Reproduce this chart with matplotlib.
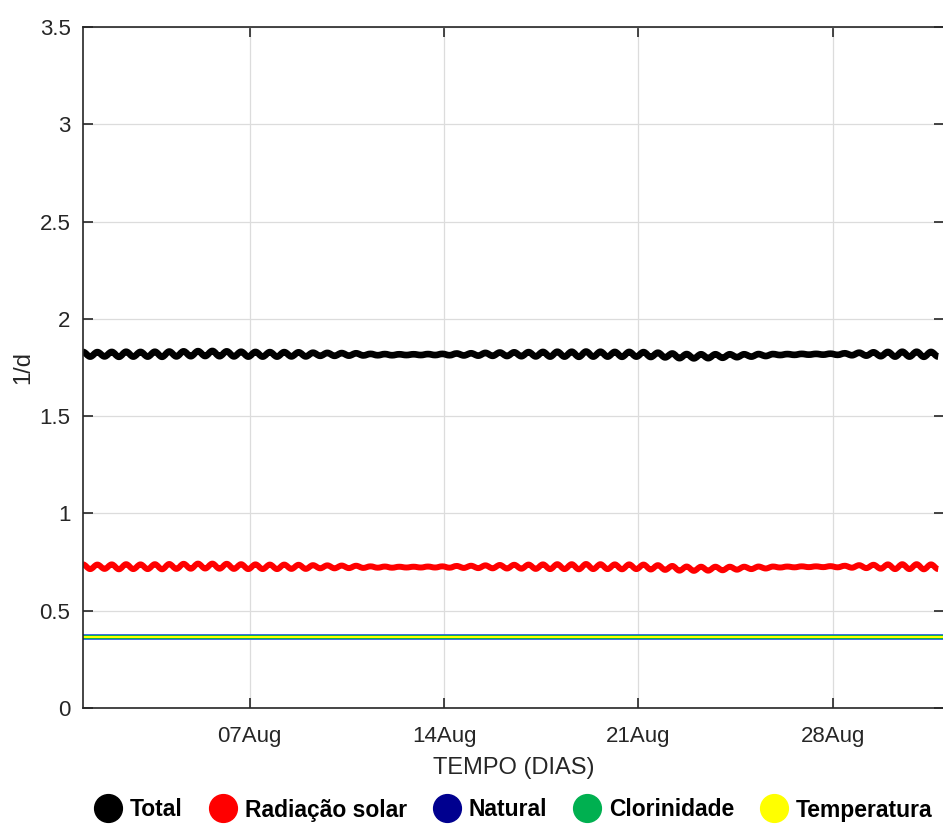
import numpy as np
import matplotlib
matplotlib.use("Agg")
import matplotlib.pyplot as plt
import matplotlib.dates as mdates
from matplotlib.lines import Line2D
from matplotlib.path import Path
from matplotlib.patches import PathPatch
from matplotlib.ticker import FuncFormatter

# samples every half tidal cycle (~6.21 h) starting 01 Aug: highs and lows
start = np.datetime64("2021-08-01T00:00")
step = np.timedelta64(22356, "s")
end = np.datetime64("2021-09-01T00:00")

total = [
    1.830, 1.806, 1.829, 1.807, 1.830, 1.805, 1.831, 1.806,
    1.830, 1.806, 1.831, 1.805, 1.832, 1.807, 1.833, 1.808,
    1.834, 1.809, 1.835, 1.808, 1.833, 1.807, 1.831, 1.806,
    1.830, 1.806, 1.829, 1.806, 1.829, 1.807, 1.828, 1.807,
    1.826, 1.810, 1.825, 1.810, 1.824, 1.811, 1.823, 1.812,
    1.820, 1.813, 1.819, 1.813, 1.818, 1.814, 1.818, 1.814,
    1.819, 1.814, 1.820, 1.813, 1.822, 1.812, 1.823, 1.811,
    1.825, 1.810, 1.827, 1.809, 1.828, 1.808, 1.829, 1.807,
    1.830, 1.806, 1.831, 1.806, 1.831, 1.805, 1.832, 1.806,
    1.831, 1.806, 1.830, 1.805, 1.830, 1.806, 1.829, 1.804,
    1.826, 1.802, 1.822, 1.798, 1.819, 1.797, 1.818, 1.798,
    1.818, 1.800, 1.818, 1.803, 1.818, 1.806, 1.819, 1.809,
    1.819, 1.814, 1.819, 1.815, 1.820, 1.816, 1.820, 1.816,
    1.821, 1.815, 1.823, 1.813, 1.826, 1.811, 1.828, 1.808,
    1.830, 1.806, 1.831, 1.806, 1.831, 1.805, 1.830, 1.806,
]

radiacao = [
    0.738, 0.714, 0.737, 0.715, 0.738, 0.713, 0.739, 0.714,
    0.738, 0.714, 0.739, 0.713, 0.740, 0.715, 0.741, 0.716,
    0.742, 0.717, 0.742, 0.716, 0.741, 0.715, 0.739, 0.714,
    0.738, 0.714, 0.737, 0.714, 0.737, 0.715, 0.736, 0.715,
    0.734, 0.718, 0.733, 0.718, 0.732, 0.719, 0.731, 0.720,
    0.728, 0.721, 0.727, 0.721, 0.726, 0.722, 0.726, 0.722,
    0.727, 0.722, 0.728, 0.721, 0.730, 0.720, 0.731, 0.719,
    0.733, 0.718, 0.735, 0.717, 0.736, 0.716, 0.737, 0.715,
    0.738, 0.714, 0.739, 0.714, 0.739, 0.713, 0.740, 0.714,
    0.739, 0.714, 0.738, 0.713, 0.738, 0.714, 0.737, 0.712,
    0.734, 0.710, 0.730, 0.706, 0.727, 0.705, 0.726, 0.706,
    0.726, 0.708, 0.726, 0.711, 0.726, 0.714, 0.727, 0.717,
    0.727, 0.722, 0.727, 0.723, 0.728, 0.724, 0.728, 0.724,
    0.729, 0.723, 0.731, 0.721, 0.734, 0.719, 0.736, 0.716,
    0.738, 0.714, 0.739, 0.714, 0.739, 0.713, 0.738, 0.714,
]

# flat series (start / end of the period)
natural = [0.365, 0.365]
clorinidade = [0.365, 0.365]
temperatura = [0.365, 0.365]

labels = ["Total", "Radiação solar", "Natural", "Clorinidade", "Temperatura"]
colors = ["#000000", "#ff0000", "#00008f", "#00b050", "#ffff00"]

t = start + np.arange(len(total)) * step
t_flat = np.array([start, end])


def wave_path(x, y):
    # cubic segments with flat tangents at each high/low, so the line reads as a wave
    x = mdates.date2num(x.astype("datetime64[s]").astype(object))
    verts = [(x[0], y[0])]
    codes = [Path.MOVETO]
    for i in range(len(x) - 1):
        dx = x[i + 1] - x[i]
        verts += [(x[i] + 0.364 * dx, y[i]), (x[i + 1] - 0.364 * dx, y[i + 1]), (x[i + 1], y[i + 1])]
        codes += [Path.CURVE4] * 3
    return Path(verts, codes)


plt.rcParams["font.family"] = ["Liberation Sans", "DejaVu Sans"]
ink = "#262626"

fig = plt.figure(figsize=(9.43, 8.25), dpi=100)
ax = fig.add_axes([83 / 943, 1 - 708 / 825, 861 / 943, 681 / 825])

ax.add_patch(PathPatch(wave_path(t, total), fill=False, edgecolor=colors[0], lw=4.8,
                       joinstyle="round", capstyle="butt"))
ax.add_patch(PathPatch(wave_path(t, radiacao), fill=False, edgecolor=colors[1], lw=4.3,
                       joinstyle="round", capstyle="butt"))
ax.plot(t_flat, natural, color="#3a5cf0", lw=4.2)
ax.plot(t_flat, clorinidade, color=colors[3], lw=3.0)
ax.plot(t_flat, temperatura, color=colors[4], lw=1.5)

ax.set_xlim(start, end)
ax.set_ylim(0, 3.5)
ax.set_yticks(np.arange(0, 3.51, 0.5))
ax.yaxis.set_major_formatter(FuncFormatter(lambda v, p: "%g" % v))
ax.set_xticks([np.datetime64("2021-08-07"), np.datetime64("2021-08-14"),
               np.datetime64("2021-08-21"), np.datetime64("2021-08-28")])
ax.xaxis.set_major_formatter(mdates.DateFormatter("%d%b"))

ax.grid(True, color="#dcdcdc", lw=0.9)
ax.set_axisbelow(True)
for s in ax.spines.values():
    s.set_color(ink)
    s.set_linewidth(1.2)
ax.tick_params(direction="in", length=7, width=1.2, color=ink, labelcolor=ink,
               top=True, right=True, labelsize=16)
ax.tick_params(axis="y", pad=9)
ax.tick_params(axis="x", pad=13)

ax.set_xlabel("TEMPO (DIAS)", fontsize=17, color=ink, labelpad=7)
ax.set_ylabel("1/d", fontsize=17, color=ink, labelpad=4)

handles = [Line2D([], [], marker="o", ls="None", ms=20, color=c, markeredgecolor=c)
           for c in colors]
leg = fig.legend(handles, labels, loc="center", bbox_to_anchor=(0.544, 1 - 810 / 825),
                 ncol=5, frameon=False, handletextpad=0.3, columnspacing=1.1,
                 handlelength=1.3, prop={"weight": "bold", "size": 16.5})

fig.savefig("out.png", dpi=100)
